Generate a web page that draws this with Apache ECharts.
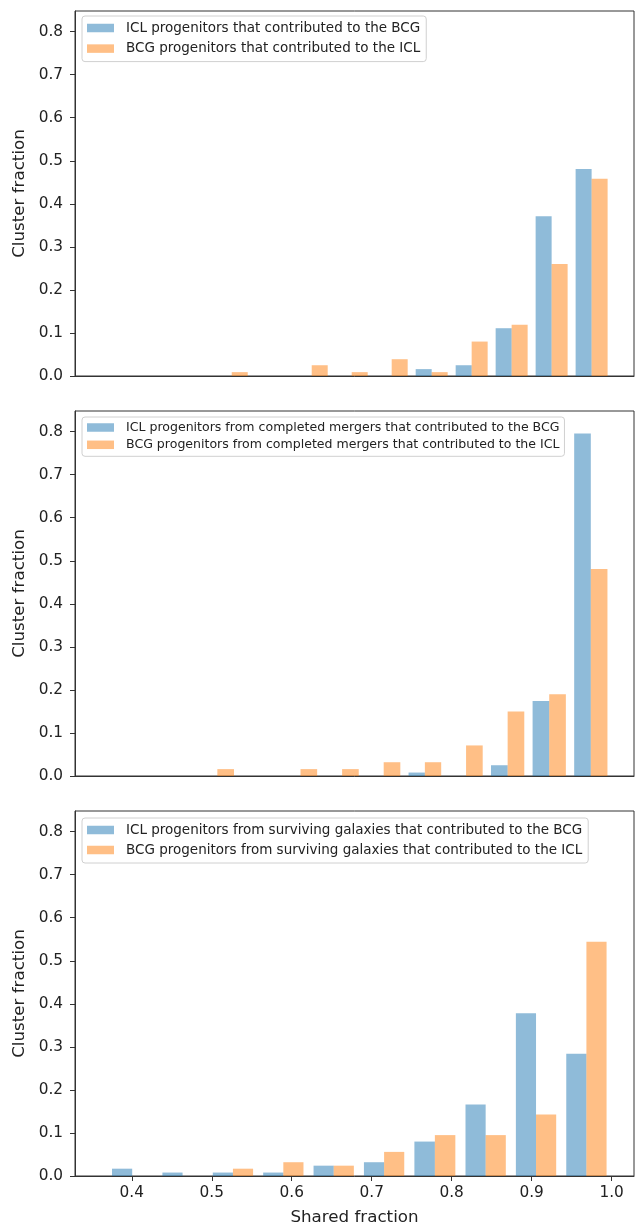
<!DOCTYPE html>
<html><head><meta charset="utf-8">
<script src="https://cdn.jsdelivr.net/npm/echarts@6/dist/echarts.min.js"></script>
<style>html,body{margin:0;padding:0;background:#fff}#c{width:640px;height:1227px}</style>
</head><body><div id="c"></div>
<script>
// ---- data ----
const edgesTop = [0.50, 0.55, 0.60, 0.65, 0.70, 0.75, 0.80, 0.85, 0.90, 0.95, 1.00];
const iclTop   = [0, 0, 0, 0, 0, 0.016, 0.025, 0.111, 0.371, 0.481];
const bcgTop   = [0.009, 0, 0.025, 0.009, 0.039, 0.009, 0.080, 0.119, 0.260, 0.458];

const edgesMid = [0.481, 0.533, 0.585, 0.637, 0.689, 0.741, 0.792, 0.844, 0.896, 0.948, 1.00];
const iclMid   = [0, 0, 0, 0, 0, 0.008, 0, 0.025, 0.174, 0.796];
const bcgMid   = [0.016, 0, 0.016, 0.016, 0.032, 0.032, 0.071, 0.150, 0.190, 0.481];

const edgesBot = [0.369, 0.432, 0.495, 0.558, 0.621, 0.684, 0.747, 0.811, 0.874, 0.937, 1.00];
const iclBot   = [0.017, 0.008, 0.008, 0.008, 0.024, 0.032, 0.080, 0.166, 0.378, 0.284];
const bcgBot   = [0, 0, 0.017, 0.032, 0.024, 0.056, 0.095, 0.095, 0.143, 0.544];

const labelsTop = ['ICL progenitors that contributed to the BCG', 'BCG progenitors that contributed to the ICL'];
const labelsMid = ['ICL progenitors from completed mergers that contributed to the BCG', 'BCG progenitors from completed mergers that contributed to the ICL'];
const labelsBot = ['ICL progenitors from surviving galaxies that contributed to the BCG', 'BCG progenitors from surviving galaxies that contributed to the ICL'];

const xTicks = [0.4, 0.5, 0.6, 0.7, 0.8, 0.9, 1.0];
const yTicks = [0.0, 0.1, 0.2, 0.3, 0.4, 0.5, 0.6, 0.7, 0.8];
const xLabel = 'Shared fraction';
const yLabel = 'Cluster fraction';

// ---- chart ----
const FONT = 'DejaVu Sans';
const BLUE = 'rgba(31,119,180,0.5)';
const ORANGE = 'rgba(255,127,14,0.5)';
const AX = '#333';

function binData(edges, vals) { return vals.map((v, i) => [edges[i], edges[i + 1], v]); }

function renderer(side) {
  return function (params, api) {
    const x0 = api.value(0), x1 = api.value(1), y = api.value(2);
    const w = x1 - x0;
    const a = side === 0 ? x0 + 0.1 * w : x0 + 0.5 * w;
    const b = side === 0 ? x0 + 0.5 * w : x0 + 0.9 * w;
    const p0 = api.coord([a, y]);
    const p1 = api.coord([b, 0]);
    return { type: 'rect', shape: { x: p0[0], y: p0[1], width: p1[0] - p0[0], height: p1[1] - p0[1] },
             style: { fill: api.visual('color') } };
  };
}

const panels = [
  { edges: edgesTop, icl: iclTop, bcg: bcgTop, labels: labelsTop },
  { edges: edgesMid, icl: iclMid, bcg: bcgMid, labels: labelsMid },
  { edges: edgesBot, icl: iclBot, bcg: bcgBot, labels: labelsBot }
];
const gridTops = [11, 411, 811];
const legendTops = [16, 417, 818];
const legendFont = [13.5, 12.55, 13.5];
const legendLH = [16, 15, 16];
const legendGaps = [4.6, 2.3, 4.0];
const legendPad = [[4, 6, 5, 5], [3, 5, 4, 5], [4, 6, 5, 5]];

const grid = [], xAxis = [], yAxis = [], series = [], legend = [];
panels.forEach((p, i) => {
  grid.push({ left: 75, right: 6, top: gridTops[i], height: 365, show: true,
              borderColor: AX, borderWidth: 1, backgroundColor: 'transparent' });
  const last = i === 2;
  xAxis.push({ type: 'value', gridIndex: i, min: 0.329, max: 1.028,
    splitLine: { show: false },
    axisLine: { show: true, lineStyle: { color: AX, width: 1 } },
    axisTick: { show: last, length: 5, lineStyle: { color: AX }, customValues: xTicks },
    axisLabel: { show: last, customValues: xTicks, margin: 10, color: '#222', fontFamily: FONT, fontSize: 15.3,
                 formatter: v => v.toFixed(1) },
    name: last ? xLabel : '', nameLocation: 'middle', nameGap: 33,
    nameTextStyle: { fontFamily: FONT, fontSize: 16.7, color: '#222' } });
  yAxis.push({ type: 'value', gridIndex: i, min: 0, max: 0.848,
    splitLine: { show: false },
    axisLine: { show: true, lineStyle: { color: AX, width: 1 } },
    axisTick: { show: true, length: 5, lineStyle: { color: AX }, customValues: yTicks },
    axisLabel: { customValues: yTicks, margin: 12, color: '#222', fontFamily: FONT, fontSize: 15.3,
                 formatter: v => v.toFixed(1) },
    name: yLabel, nameLocation: 'middle', nameGap: 43,
    nameTextStyle: { fontFamily: FONT, fontSize: 16.7, color: '#222' } });
  series.push({ type: 'custom', name: p.labels[0], xAxisIndex: i, yAxisIndex: i, color: BLUE,
    encode: { x: [0, 1], y: 2 }, renderItem: renderer(0), data: binData(p.edges, p.icl) });
  series.push({ type: 'custom', name: p.labels[1], xAxisIndex: i, yAxisIndex: i, color: ORANGE,
    encode: { x: [0, 1], y: 2 }, renderItem: renderer(1), data: binData(p.edges, p.bcg) });
  legend.push({ data: p.labels.map(n => ({ name: n, icon: 'rect' })), orient: 'vertical',
    left: 82, top: legendTops[i], padding: legendPad[i], itemWidth: 27, itemHeight: 8.5,
    itemGap: legendGaps[i], selectedMode: false,
    backgroundColor: 'rgba(255,255,255,0.8)', borderColor: '#d0d0d0', borderWidth: 1, borderRadius: 3,
    textStyle: { fontFamily: FONT, fontSize: legendFont[i], color: '#222', lineHeight: legendLH[i], padding: [0, 0, 0, 7] } });
});

const chart = echarts.init(document.getElementById('c'), null, { renderer: 'canvas' });
chart.setOption({ animation: false, backgroundColor: '#fff', grid, xAxis, yAxis, series, legend });
</script></body></html>
